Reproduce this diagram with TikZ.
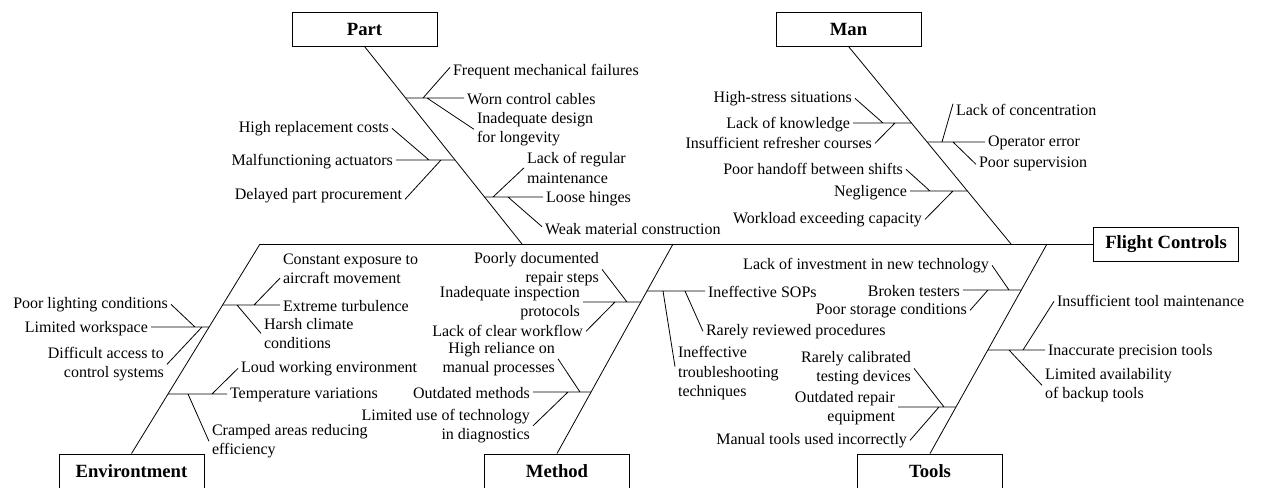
\documentclass[tikz,border=0pt]{standalone}
\usepackage{fontspec}
\setmainfont{Liberation Serif}
\begin{document}
\begin{tikzpicture}[x=0.75pt,y=-0.75pt,
  line width=0.6pt,
  lbl/.style={inner sep=2pt,yshift=-1pt,font=\fontsize{12}{14.5}\selectfont},
  lw/.style={lbl,anchor=west,align=left},
  le/.style={lbl,anchor=east,align=right},
  cat/.style={draw,line width=0.7pt,minimum width=108.75pt,minimum height=25.5pt,
              inner sep=0pt,font=\bfseries\fontsize{14}{16}\selectfont}]
\useasboundingbox (0,0) rectangle (1267,487);

% category boxes and the effect
\node[cat] (part)  at (364.5,29) {Part};
\node[cat] (man)   at (848.5,29) {Man};
\node[cat] (env)   at (131.5,471) {Environtment};
\node[cat] (meth)  at (557,471) {Method};
\node[cat] (tools) at (930,471) {Tools};
\node[cat] (fc)    at (1166,244) {Flight Controls};

% spine and main bones
\coordinate (eT) at (260,244);
\coordinate (pS) at (522,244);
\coordinate (tT) at (673,244);
\coordinate (mS) at (1011,244);
\coordinate (oT) at (1047,244);
\draw (eT) -- (fc.west);
\draw (part.south) -- (pS);
\draw (man.south) -- (mS);
\draw (env.north) -- (eT);
\draw (meth.north) -- (tT);
\draw (tools.north) -- (oT);

% ---------- Part ----------
\node[lw] (p1) at (450,70) {Frequent mechanical failures};
\node[lw] (p2) at (464,98) {Worn control cables};
\node[lw] (p3) at (474,128) {Inadequate design\\for longevity};
\node[le] (p4) at (392,127) {High replacement costs};
\node[le] (p5) at (396,160) {Malfunctioning actuators};
\node[le] (p6) at (405,194) {Delayed part procurement};
\node[lw] (p7) at (524,166.5) {Lack of regular\\maintenance};
\node[lw] (p8) at (543,197) {Loose hinges};
\node[lw] (p9) at (542,228) {Weak material construction};
\coordinate (pb1) at (405.9,98);  \coordinate (pb1a) at (423,98);  \coordinate (pb1b) at (427,98);
\coordinate (pb2) at (455.2,160); \coordinate (pb2a) at (429,160); \coordinate (pb2b) at (441,160);
\coordinate (pb3) at (484.6,197); \coordinate (pb3a) at (493,197); \coordinate (pb3b) at (508,197);
\draw (pb1) -- (p2.west |- pb1) (pb1a) -- ([yshift=3pt]p1.west) (pb1b) -- (p3.west);
\draw (p5.east |- pb2) -- (pb2) (pb2a) -- (p4.east) (pb2b) -- ([yshift=-3pt]p6.east);
\draw (pb3) -- (p8.west |- pb3) (pb3a) -- (p7.west) (pb3b) -- ([yshift=2pt]p9.west);

% ---------- Man ----------
\node[le] (m1) at (855,97) {High-stress situations};
\node[le] (m2) at (853,123) {Lack of knowledge};
\node[le] (m3) at (875,142) {Insufficient refresher courses};
\node[lw] (m4) at (953,109) {Lack of concentration};
\node[lw] (m5) at (985,142) {Operator error};
\node[lw] (m6) at (976,163) {Poor supervision};
\node[le] (m7) at (906,168) {Poor handoff between shifts};
\node[le] (m8) at (910,191) {Negligence};
\node[le] (m9) at (925,218) {Workload exceeding capacity};
\coordinate (mb1) at (911.7,123); \coordinate (mb1a) at (883,123); \coordinate (mb1b) at (895,123);
\coordinate (mb2) at (927.3,142); \coordinate (mb2a) at (942,142); \coordinate (mb2b) at (953,142);
\coordinate (mb3) at (967.5,191); \coordinate (mb3a) at (930,191); \coordinate (mb3b) at (953,191);
\draw (m2.east |- mb1) -- (mb1) (mb1a) -- (m1.east) (mb1b) -- (m3.east);
\draw (mb2) -- (m5.west |- mb2) (mb2a) -- ([yshift=5pt]m4.west) (mb2b) -- (m6.west);
\draw (m8.east |- mb3) -- (mb3) (mb3a) -- (m7.east) (mb3b) -- (m9.east);

% ---------- Environtment ----------
\node[lw] (e1) at (280,267.5) {Constant exposure to\\aircraft movement};
\node[lw] (e2) at (280,305) {Extreme turbulence};
\node[lw] (e3) at (261,332) {Harsh climate\\conditions};
\node[le] (e4) at (171,303) {Poor lighting conditions};
\node[le] (e5) at (151,327) {Limited workspace};
\node[le] (e6) at (167,363) {Difficult access to\\control systems};
\node[lw] (e7) at (238,367) {Loud working environment};
\node[lw] (e8) at (227,394) {Temperature variations};
\node[lw] (e9) at (209,440) {Cramped areas reducing\\efficiency};
\coordinate (eb1) at (209.0,327); \coordinate (eb1a) at (195,327); \coordinate (eb1b) at (202,327);
\coordinate (eb2) at (222.5,305); \coordinate (eb2a) at (254,305); \coordinate (eb2b) at (237,305);
\coordinate (eb3) at (167.8,394); \coordinate (eb3a) at (212,394); \coordinate (eb3b) at (188,394);
\draw (e5.east |- eb1) -- (eb1) (eb1a) -- (e4.east) (eb1b) -- (e6.east);
\draw (eb2) -- (e2.west |- eb2) (eb2a) -- ([yshift=-7pt]e1.west) (eb2b) -- (e3.west);
\draw (eb3) -- (e8.west |- eb3) (eb3a) -- (e7.west) (eb3b) -- (e9.west);

% ---------- Method ----------
\node[le] (t1) at (602,268) {Poorly documented\\repair steps};
\node[le] (t2) at (583,302) {Inadequate inspection\\protocols};
\node[le] (t3) at (586,330) {Lack of clear workflow};
\node[le] (t4) at (558,357.5) {High reliance on\\manual processes};
\node[le] (t5) at (533,392) {Outdated methods};
\node[le] (t6) at (533,424.5) {Limited use of technology\\in diagnostics};
\node[lw] (t7) at (705,291) {Ineffective SOPs};
\node[lw] (t8) at (703,330) {Rarely reviewed procedures};
\node[lw] (t9) at (675,372) {Ineffective\\troubleshooting\\techniques};
\coordinate (tb1) at (640.8,302); \coordinate (tb1a) at (627,302); \coordinate (tb1b) at (615,302);
\coordinate (tb2) at (590.9,392); \coordinate (tb2a) at (580,392); \coordinate (tb2b) at (568,392);
\coordinate (tb3) at (646.9,291); \coordinate (tb3a) at (685,291); \coordinate (tb3b) at (663,291);
\draw (t2.east |- tb1) -- (tb1) (tb1a) -- (t1.east) (tb1b) -- (t3.east);
\draw (t5.east |- tb2) -- (tb2) (tb2a) -- (t4.east) (tb2b) -- (t6.east);
\draw (tb3) -- (t7.west |- tb3) (tb3a) -- (t8.west) (tb3b) -- ([yshift=5pt]t9.west);

% ---------- Tools ----------
\node[le] (o1) at (992,264) {Lack of investment in new technology};
\node[le] (o2) at (963,290) {Broken testers};
\node[le] (o3) at (970,309) {Poor storage conditions};
\node[lw] (o4) at (1054,300) {Insufficient tool maintenance};
\node[lw] (o5) at (1045,350) {Inaccurate precision tools};
\node[lw] (o6) at (1042,384) {Limited availability\\of backup tools};
\node[le] (o7) at (914,367) {Rarely calibrated\\testing devices};
\node[le] (o8) at (898,407) {Outdated repair\\equipment};
\node[le] (o9) at (910,439) {Manual tools used incorrectly};
\coordinate (ob1) at (1021.2,290); \coordinate (ob1a) at (1009,290); \coordinate (ob1b) at (988,290);
\coordinate (ob2) at (987.7,350); \coordinate (ob2a) at (1023,350); \coordinate (ob2b) at (1009,350);
\coordinate (ob3) at (955.8,407); \coordinate (ob3a) at (944,407); \coordinate (ob3b) at (939,407);
\draw (o2.east |- ob1) -- (ob1) (ob1a) -- (o1.east) (ob1b) -- (o3.east);
\draw (ob2) -- (o5.west |- ob2) (ob2a) -- (o4.west) (ob2b) -- (o6.west);
\draw (o8.east |- ob3) -- (ob3) (ob3a) -- (o7.east) (ob3b) -- (o9.east);
\end{tikzpicture}
\end{document}
